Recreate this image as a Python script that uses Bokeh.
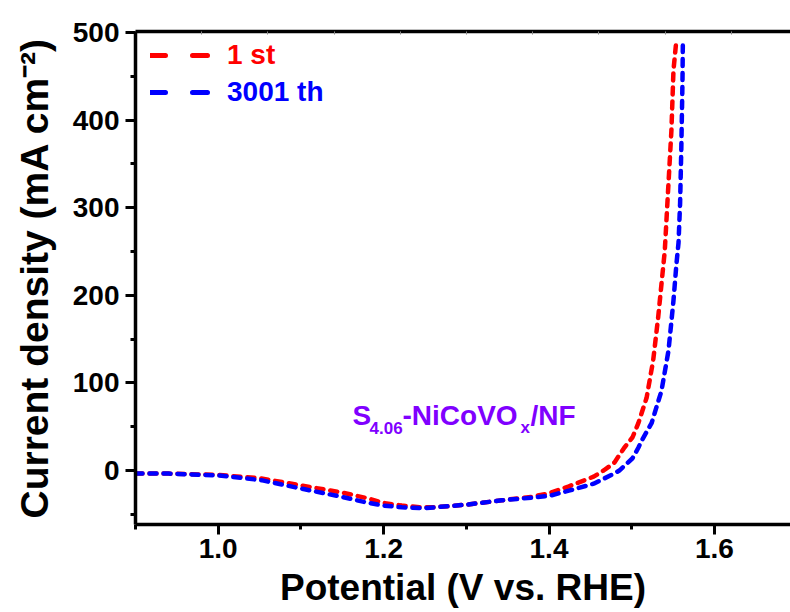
from bokeh.plotting import figure
from bokeh.models import (Range1d, LinearAxis, FixedTicker, Legend, LegendItem,
                          Label, ColumnDataSource, CustomJSTickFormatter,
                          PrintfTickFormatter)
from bokeh.embed import file_html
from bokeh.resources import INLINE

# LSV polarisation curves: potential (V vs. RHE) and current density (mA cm^-2)
potential_1st = [0.900, 0.940, 1.000, 1.052, 1.100, 1.149, 1.182, 1.200, 1.222,
                 1.246, 1.262, 1.300, 1.343, 1.379, 1.400, 1.424, 1.454, 1.466,
                 1.479, 1.491, 1.501, 1.508, 1.518, 1.526, 1.532, 1.536, 1.540,
                 1.544, 1.548, 1.5505, 1.554]
current_1st = [-3.4, -3.5, -5, -9, -17, -25, -32, -37, -40,
               -42, -42, -39, -34, -30, -26, -18, -7, 0,
               9, 26, 38, 54, 83, 126, 175, 213, 251,
               320, 388, 457, 491]

potential_3001th = [0.900, 0.940, 1.000, 1.052, 1.100, 1.149, 1.182, 1.200, 1.222,
                    1.246, 1.262, 1.300, 1.343, 1.379, 1.400, 1.424, 1.454, 1.479,
                    1.485, 1.501, 1.508, 1.512, 1.524, 1.536, 1.5445, 1.5505, 1.554,
                    1.5566, 1.5585, 1.560, 1.5614, 1.5618]
current_3001th = [-3.4, -3.5, -5.5, -11, -20.5, -30, -37, -40, -42,
                  -43, -42, -39, -34, -31, -29, -23, -15, -3.4,
                  0, 14, 26, 34, 54, 91, 137, 194, 235,
                  260, 305, 369, 445, 485]

series_labels = ["1 st", "3001 th"]
series_colors = ["#FF0000", "#0000FF"]

x_major_ticks = [1.0, 1.2, 1.4, 1.6]
x_minor_ticks = [0.9, 1.1, 1.3, 1.5, 1.7]
y_major_ticks = [0, 100, 200, 300, 400, 500]
y_minor_ticks = [-50, 50, 150, 250, 350, 450]

FONT = "Liberation Sans"
PURPLE = "#8000FF"

p = figure(width=790, height=612, output_backend="svg", toolbar_location=None,
           x_range=Range1d(0.9, 1.692), y_range=Range1d(-61.6, 501.1),
           x_axis_location=None, y_axis_location=None,
           min_border_left=135, min_border_right=0,
           min_border_top=31, min_border_bottom=88)
p.outline_line_color = None
p.xgrid.visible = False
p.ygrid.visible = False
p.background_fill_color = "white"
p.border_fill_color = "white"


def style_axis(ax, label):
    ax.axis_label = label
    ax.axis_label_text_font = FONT
    ax.axis_label_text_font_style = "bold"
    ax.axis_label_text_color = "black"
    ax.major_label_text_font = FONT
    ax.major_label_text_font_style = "bold"
    ax.major_label_text_font_size = "28px"
    ax.major_label_text_color = "black"
    ax.axis_line_width = 3.5
    ax.major_tick_line_width = 3
    ax.minor_tick_line_width = 3
    ax.major_tick_in = 0
    ax.major_tick_out = 10
    ax.minor_tick_in = 0
    ax.minor_tick_out = 5


xaxis = LinearAxis(ticker=FixedTicker(ticks=x_major_ticks, minor_ticks=x_minor_ticks),
                   formatter=PrintfTickFormatter(format="%.1f"))
style_axis(xaxis, "Potential (V vs. RHE)")
xaxis.axis_label_text_font_size = "37px"
xaxis.major_label_standoff = 4
xaxis.axis_label_standoff = 6
p.add_layout(xaxis, "below")

yaxis = LinearAxis(ticker=FixedTicker(ticks=y_major_ticks, minor_ticks=y_minor_ticks))
style_axis(yaxis, "Current density (mA cm\u207b\u00b2)")
yaxis.axis_label_text_font_size = "39px"
yaxis.major_label_standoff = 6
yaxis.axis_label_standoff = 14
p.add_layout(yaxis, "left")

# top frame line with small inward ticks
p.extra_x_ranges = {"top": Range1d(0, (790 - 135) / 66.2)}
top = LinearAxis(x_range_name="top",
                 ticker=FixedTicker(ticks=list(range(1, 10)), minor_ticks=[]),
                 formatter=CustomJSTickFormatter(code="return ''"))
top.axis_line_width = 3.5
top.major_tick_in = 3
top.major_tick_out = 0
top.major_tick_line_color = "#888888"
top.major_tick_line_width = 1
top.major_label_standoff = 0
p.add_layout(top, "above")

src_1 = ColumnDataSource(dict(x=potential_1st, y=current_1st))
src_2 = ColumnDataSource(dict(x=potential_3001th, y=current_3001th))
for src, color in [(src_1, series_colors[0]), (src_2, series_colors[1])]:
    p.line("x", "y", source=src, line_color=color, line_width=4.5,
           line_dash="7 7", line_cap="round", line_join="round")

# legend entries use a longer dash, so they get their own (hidden) line renderers
for i, (lab, color) in enumerate(zip(series_labels, series_colors)):
    key = p.line(x=[float("nan"), float("nan")], y=[float("nan"), float("nan")],
                 line_color=color, line_width=5, line_dash="15 27",
                 line_cap="round", visible=False)
    leg = Legend(items=[LegendItem(label=lab, renderers=[key])],
                 location=(15, 453 - 37 * i), padding=0, margin=0, spacing=0,
                 glyph_width=63, glyph_height=28, label_height=28,
                 label_standoff=14, label_text_font=FONT,
                 label_text_font_style="bold", label_text_font_size="28px",
                 label_text_color=color, background_fill_alpha=0,
                 border_line_color=None, inactive_fill_alpha=0,
                 click_policy="none")
    p.add_layout(leg)

# sample name with subscripts
name_parts = [("S", 217, 109, "28px"), ("4.06", 234, 97, "17px"),
              ("-NiCoVO", 267, 109, "28px"), ("x", 385, 97, "17px"),
              ("/NF", 395, 109, "28px")]
for txt, sx, sy, size in name_parts:
    p.add_layout(Label(x=sx, y=sy, x_units="screen", y_units="screen", text=txt,
                       text_font=FONT, text_font_style="bold",
                       text_font_size=size, text_color=PURPLE,
                       text_baseline="alphabetic", text_align="left"))

open("out.html", "w").write(file_html(p, INLINE))
